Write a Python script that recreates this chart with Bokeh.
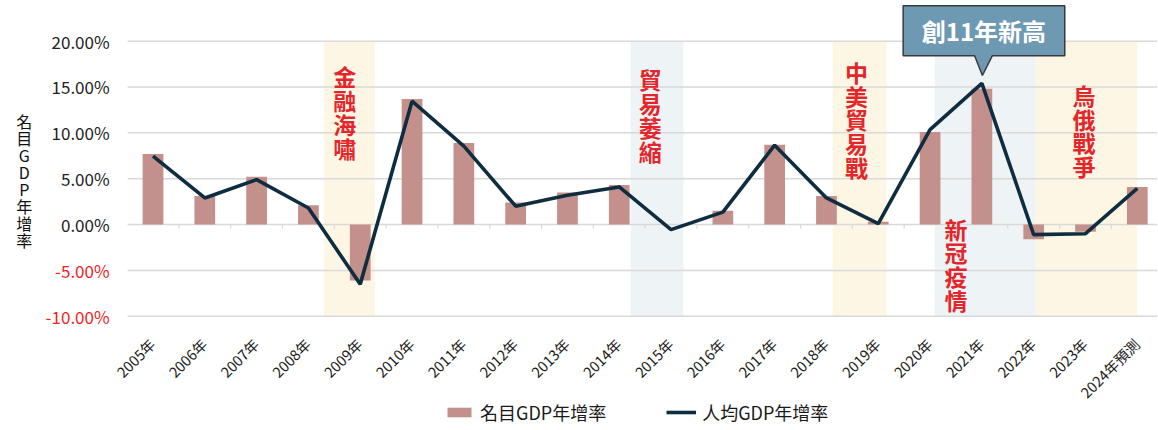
import math
from bokeh.plotting import figure
from bokeh.models import ColumnDataSource, Legend, LegendItem
from bokeh.core.properties import value
from bokeh.embed import file_html
from bokeh.resources import INLINE

# ---------------- data ----------------
years = ["2005年", "2006年", "2007年", "2008年", "2009年", "2010年", "2011年", "2012年",
         "2013年", "2014年", "2015年", "2016年", "2017年", "2018年", "2019年", "2020年",
         "2021年", "2022年", "2023年", "2024年預測"]
nominal_gdp = [7.7, 3.1, 5.2, 2.1, -6.1, 13.7, 8.9, 2.4, 3.5, 4.3, 0.0, 1.5, 8.7, 3.1,
               0.3, 10.1, 14.8, -1.6, -0.8, 4.1]
per_capita_gdp = [7.45, 2.9, 4.9, 1.8, -6.5, 13.45, 8.55, 2.0, 3.2, 4.1, -0.55, 1.35, 8.65,
                  2.9, 0.1, 10.35, 15.4, -1.1, -1.0, 3.95]
y_ticks = [-10, -5, 0, 5, 10, 15, 20]
y_tick_labels = ["-10.00%", "-5.00%", "0.00%", "5.00%", "10.00%", "15.00%", "20.00%"]
y_title = "名目GDP年增率"
series_names = ["名目GDP年增率", "人均GDP年增率"]

# event periods (in year-index units) and their labels
event_names = ["金融海嘯", "貿易萎縮", "中美貿易戰", "新冠疫情", "烏俄戰爭"]
event_start = [3.3, 9.22, 13.12, 15.09, 17.04]
event_end = [4.28, 10.24, 14.16, 17.04, 19.0]
event_kind = ["crisis", "trade", "crisis", "trade", "crisis"]
event_label_x = [3.7, 9.6, 13.58, 15.5, 17.97]
event_label_top = [18.0, 17.7, 18.5, 1.4, 16.0]
callout_text = "創11年新高"

# ---------------- styles ----------------
FONT = "Noto Sans CJK TC"
BAR_COLOR = "#C4908B"
LINE_COLOR = "#0F2D40"
RED = "#E3262B"
NEG_RED = "#F01E23"
TXT = "#222222"
SHADE = {"crisis": "#FEF6E4", "trade": "#EEF3F5"}
GRID = "#D9D9D9"

x = list(range(len(years)))
X_AXIS = -0.49          # left edge of the gridded area
X_START, X_END = -2.944, 19.39
Y_START, Y_END = -22.35, 24.43

p = figure(width=1157, height=429, x_range=(X_START, X_END), y_range=(Y_START, Y_END),
           output_backend="svg", toolbar_location=None,
           min_border_left=0, min_border_right=0, min_border_top=0, min_border_bottom=0)
p.outline_line_color = None
p.background_fill_color = "white"
p.grid.grid_line_color = None
p.xaxis.visible = False
p.yaxis.visible = False

# shaded event periods
shade_src = ColumnDataSource(dict(left=event_start, right=event_end,
                                  color=[SHADE[k] for k in event_kind]))
p.quad(left="left", right="right", bottom=min(y_ticks), top=max(y_ticks), fill_color="color",
       line_color=None, source=shade_src, level="underlay")

# horizontal gridlines
p.segment(x0=[X_AXIS] * len(y_ticks), x1=[X_END] * len(y_ticks), y0=y_ticks, y1=y_ticks,
          line_color=GRID, line_width=1.5, level="underlay")

# small category separator ticks on the zero line
sep = [i + 0.5 for i in x[:-1]]
p.segment(x0=sep, x1=sep, y0=[0] * len(sep), y1=[-0.45] * len(sep), line_color=GRID,
          line_width=1.2)

# y tick labels (negative ones in red)
p.text(x=[X_AXIS] * len(y_ticks), y=y_ticks, text=y_tick_labels, x_offset=-18,
       text_color=[NEG_RED if t < 0 else TXT for t in y_ticks], text_font=value(FONT),
       text_font_size="17px", text_align="right", text_baseline="middle")

# y axis title (stacked characters)
p.text(x=[X_START + 0.46], y=[4.8], text=["\n".join(y_title)], text_color="#111111",
       text_font=value(FONT), text_font_size="16px", text_align="center",
       text_baseline="middle", text_line_height=0.71)

# x tick labels (rotated 45 degrees)
p.text(x=x, y=[min(y_ticks)] * len(x), text=years, angle=math.pi / 4, x_offset=-1,
       y_offset=25, text_color="#1a1a1a", text_font=value(FONT), text_font_size="14.5px",
       text_align="right", text_baseline="middle")

src = ColumnDataSource(dict(x=x, nominal=nominal_gdp, per_capita=per_capita_gdp))
bars = p.vbar(x="x", top="nominal", bottom=0, width=0.4, fill_color=BAR_COLOR,
              line_color=None, source=src)
line = p.line(x="x", y="per_capita", line_color=LINE_COLOR, line_width=3.6, source=src)

# event labels (vertical text)
p.text(x=event_label_x, y=event_label_top, text=["\n".join(n) for n in event_names],
       text_color=RED, text_font=value(FONT), text_font_style="bold", text_font_size="23px",
       text_align="center", text_baseline="top", text_line_height=0.70)

# callout at the 2021 peak
peak_i = per_capita_gdp.index(max(per_capita_gdp))
peak_v = per_capita_gdp[peak_i]
bx0, bx1 = peak_i - 1.52, peak_i + 1.6
by0, by1 = peak_v + 3.0, 23.85
cx = peak_i + 0.01
xs = [bx0, bx1, bx1, cx + 0.19, cx, cx - 0.15, bx0]
ys = [by1, by1, by0, by0, peak_v + 0.85, by0, by0]
p.patch(xs, ys, fill_color="#6E99B2", line_color="#3A3A3A", line_width=1.5)
p.text(x=[(bx0 + bx1) / 2], y=[(by0 + by1) / 2], text=[callout_text], text_color="white",
       text_font=value(FONT), text_font_style="bold", text_font_size="24px",
       text_align="center", text_baseline="middle")

legend = Legend(items=[LegendItem(label=series_names[0], renderers=[bars]),
                       LegendItem(label=series_names[1], renderers=[line])],
                orientation="horizontal", location=(444, 4), spacing=60,
                glyph_width=30, glyph_height=12, label_height=20, label_text_font=FONT,
                label_text_font_size="18px", label_text_color="#1a1a1a",
                border_line_color=None, background_fill_alpha=0, margin=0, padding=0,
                label_standoff=6)
p.add_layout(legend, "center")

open("out.html", "w").write(file_html(p, INLINE))
